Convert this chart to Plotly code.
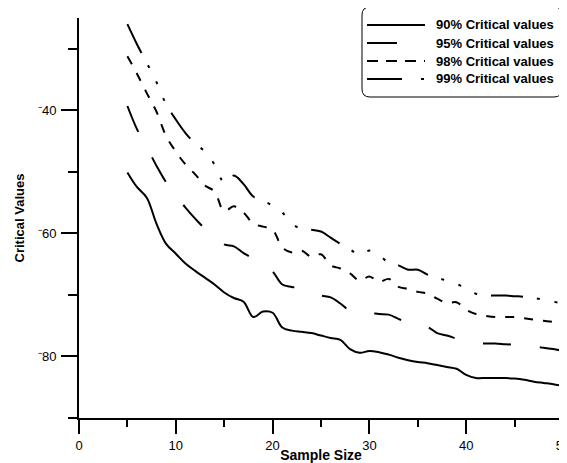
import plotly.graph_objects as go

# ---------------- data ----------------
sample_size = list(range(5, 51))

cv90 = [-50.1, -52.5, -54.2, -58.4, -61.7, -63.3, -64.9, -66.1, -67.2, -68.3,
        -69.6, -70.5, -71.1, -73.6, -72.7, -72.9, -75.3, -75.8, -76.0, -76.2,
        -76.6, -77.0, -77.3, -78.8, -79.4, -79.1, -79.3, -79.7, -80.2, -80.6,
        -80.9, -81.1, -81.4, -81.7, -82.0, -83.0, -83.5, -83.5, -83.5, -83.5,
        -83.6, -83.8, -84.1, -84.3, -84.5, -84.8]

cv95 = [-39.3, -43.1, -46.0, -49.0, -51.7, -53.8, -55.8, -57.6, -59.2, -60.3,
        -61.8, -62.1, -63.2, -64.1, -65.1, -66.2, -68.3, -68.7, -69.0, -69.6,
        -70.1, -70.4, -71.4, -72.6, -72.9, -72.9, -73.1, -73.2, -73.9, -74.5,
        -74.9, -75.2, -76.2, -76.6, -77.1, -77.6, -77.8, -77.9, -77.9, -78.0,
        -78.1, -78.3, -78.4, -78.6, -78.8, -79.1]

cv98 = [-31.2, -34.1, -37.2, -40.2, -44.2, -46.7, -48.8, -50.4, -52.2, -53.2,
        -56.4, -55.6, -56.6, -58.4, -58.9, -59.4, -62.3, -63.1, -62.8, -63.8,
        -63.4, -65.2, -65.7, -66.5, -67.7, -67.0, -67.9, -67.4, -68.7, -69.0,
        -69.5, -69.8, -70.6, -71.3, -71.2, -72.4, -73.1, -73.4, -73.6, -73.6,
        -73.6, -73.8, -74.0, -74.2, -74.4, -74.7]

cv99 = [-26.0, -29.3, -32.3, -35.4, -39.0, -41.5, -43.7, -45.4, -46.7, -48.8,
        -51.7, -50.6, -52.0, -54.0, -54.7, -55.5, -56.6, -58.4, -59.3, -59.4,
        -59.7, -60.7, -61.7, -62.6, -63.5, -62.8, -63.5, -64.8, -65.2, -65.9,
        -65.9, -66.7, -67.2, -67.7, -68.2, -69.0, -69.8, -70.1, -70.1, -70.1,
        -70.2, -70.3, -70.5, -70.8, -71.1, -71.4]

series_names = ["90% Critical values", "95% Critical values",
                "98% Critical values", "99% Critical values"]

x_tickvals = [0, 10, 20, 30, 40, 50]
y_tickvals = [-80, -60, -40]
y_ticktext = ["\u207b80", "\u207b60", "\u207b40"]

# ---------------- styling ----------------
# the page body has an 8px margin, so the figure is 8px smaller and offset
BODY = 8
W, H = 567 - BODY, 463 - BODY
ML, MR, MT, MB = 71, 4, 10, 45
FONT = "Liberation Sans, Arial, sans-serif"

plot_dashes = ["solid", "28px,29px", "9px,10px",
               "32px,14px,3px,15px,3px,15px,3px,14px"]
legend_dashes = ["solid", "30px,40px", "11px,8px", "35px,19px,3px,30px"]

PL, PT = BODY + ML, BODY + MT
PW, PH = W - ML - MR, H - MT - MB


def pxx(px):
    return (px - PL) / PW


def pxy(py):
    return (PT + PH - py) / PH


fig = go.Figure()
for vals, dash in zip([cv90, cv95, cv98, cv99], plot_dashes):
    fig.add_trace(go.Scatter(
        x=sample_size, y=vals, mode="lines",
        line=dict(color="black", width=2, dash=dash, shape="spline", smoothing=1),
        showlegend=False, hoverinfo="skip"))

# legend box with rounded corners
x0, x1, y0, y1, r = 362, 562, 7, 97, 8
path = (f"M {pxx(x0 + r)},{pxy(y0)} L {pxx(x1 - r)},{pxy(y0)} "
        f"Q {pxx(x1)},{pxy(y0)} {pxx(x1)},{pxy(y0 + r)} "
        f"L {pxx(x1)},{pxy(y1 - r)} Q {pxx(x1)},{pxy(y1)} {pxx(x1 - r)},{pxy(y1)} "
        f"L {pxx(x0 + r)},{pxy(y1)} Q {pxx(x0)},{pxy(y1)} {pxx(x0)},{pxy(y1 - r)} "
        f"L {pxx(x0)},{pxy(y0 + r)} Q {pxx(x0)},{pxy(y0)} {pxx(x0 + r)},{pxy(y0)} Z")
shapes = [dict(type="path", path=path, xref="paper", yref="paper",
               line=dict(color="black", width=1), fillcolor="white", layer="above")]
annotations = []
rows = [25, 43, 61, 79]
for name, dash, ry in zip(series_names, legend_dashes, rows):
    shapes.append(dict(type="line", xref="paper", yref="paper",
                       x0=pxx(367), x1=pxx(425), y0=pxy(ry), y1=pxy(ry),
                       line=dict(color="black", width=2, dash=dash), layer="above"))
    annotations.append(dict(x=pxx(434), y=pxy(ry), xref="paper", yref="paper",
                            text=name, showarrow=False, xanchor="left", yanchor="middle",
                            font=dict(family=FONT, size=13, color="black", weight="bold")))

fig.update_layout(
    width=W, height=H,
    margin=dict(l=ML, r=MR, t=MT, b=MB, pad=0),
    paper_bgcolor="white", plot_bgcolor="white",
    font=dict(family=FONT, color="black"),
    shapes=shapes, annotations=annotations,
    xaxis=dict(range=[0, 50], tickmode="array", tickvals=x_tickvals, automargin=False,
               ticklabeloverflow="allow",
               showgrid=False, zeroline=False, showline=True, linecolor="black",
               linewidth=2, ticks="outside", ticklen=14, tickwidth=2, tickcolor="black",
               minor=dict(tickmode="linear", tick0=5, dtick=10, ticks="outside",
                          ticklen=7, tickwidth=2, tickcolor="black"),
               tickfont=dict(family=FONT, size=13, color="black"),
               title=dict(text="Sample Size", standoff=2,
                          font=dict(family=FONT, size=14, color="black", weight="bold"))),
    yaxis=dict(range=[-90, -25], tickmode="array", tickvals=y_tickvals, ticktext=y_ticktext,
               automargin=False,
               showgrid=False, zeroline=False, showline=True, linecolor="black",
               linewidth=2, ticks="outside", ticklen=16, tickwidth=2, tickcolor="black",
               ticklabelstandoff=2,
               minor=dict(tickmode="linear", tick0=-90, dtick=20, ticks="outside",
                          ticklen=9, tickwidth=2, tickcolor="black"),
               tickfont=dict(family=FONT, size=13, color="black"),
               title=dict(text="Critical Values", standoff=10,
                          font=dict(family=FONT, size=13, color="black", weight="bold"))),
)

fig.write_html("out.html")
